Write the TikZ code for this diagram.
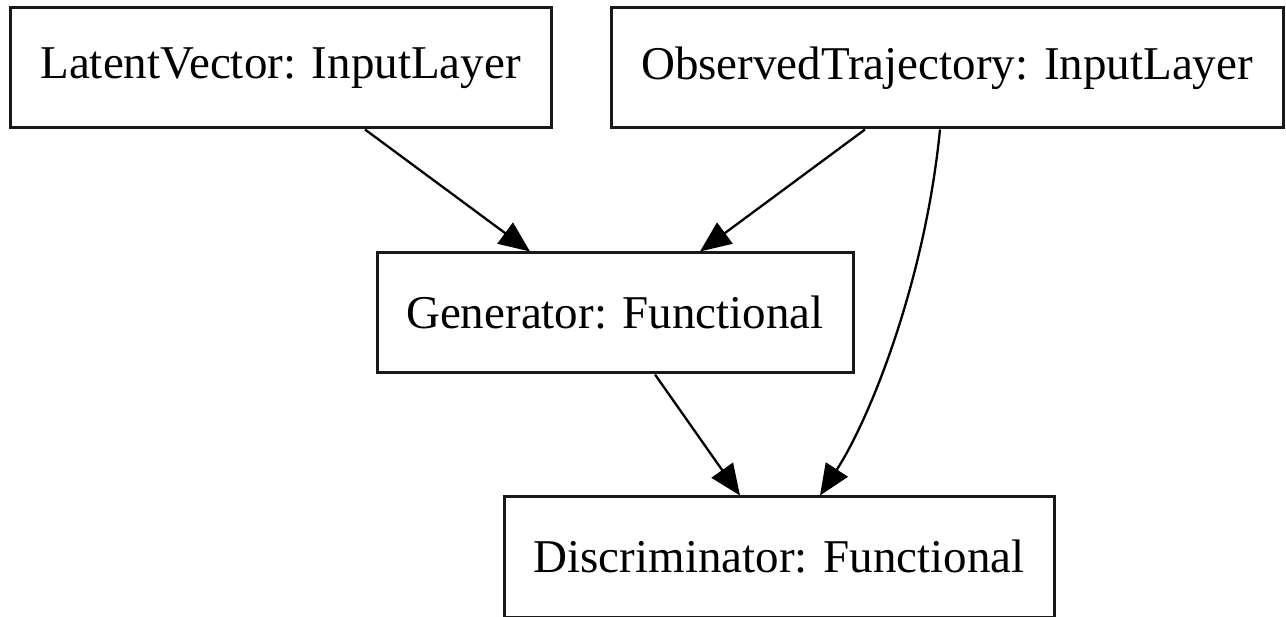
\documentclass[tikz,border=0pt]{standalone}
\usepackage{fontspec}
\setmainfont{Liberation Serif}
\usetikzlibrary{arrows.meta}
\begin{document}
\begin{tikzpicture}[x=1pt,y=-1pt,
  box/.style={draw=black!90,line width=3pt,rectangle,inner sep=0pt,
    minimum height=120pt,font=\fontsize{47}{56}\selectfont,text=black},
  conn/.style={draw=black,line width=2.3pt,-{Triangle[length=31pt,width=26pt]}}]
\useasboundingbox[fill=white] (0,0) rectangle (1286,617);
\node[box,minimum width=541pt] (lv) at (280.5,68) {LatentVector: InputLayer};
\node[box,minimum width=672pt] (ot) at (947,68) {ObservedTrajectory: InputLayer};
\node[box,minimum width=476pt] (gen) at (615,313) {Generator: Functional};
\node[box,minimum width=550pt] (disc) at (779,557) {Discriminator: Functional};
\draw[conn] ([xshift=84.5pt]lv.south) -- ([xshift=-85pt]gen.north);
\draw[conn] ([xshift=-82pt]ot.south) -- ([xshift=85pt]gen.north);
\draw[conn] ([xshift=40pt]gen.south) -- ([xshift=-39pt]disc.north);
\draw[conn] ([xshift=-7pt]ot.south) .. controls +(-15,152) and +(50,-77) .. ([xshift=41pt]disc.north);
\end{tikzpicture}
\end{document}
